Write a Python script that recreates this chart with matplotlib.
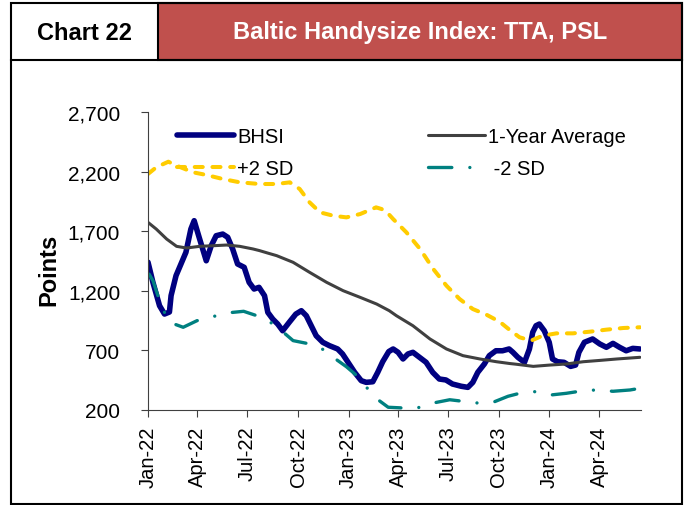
import pandas as pd
import matplotlib
matplotlib.use("Agg")
import matplotlib.pyplot as plt
import matplotlib.dates as mdates
from matplotlib.patches import Rectangle
from matplotlib.lines import Line2D
from matplotlib.ticker import FuncFormatter

plt.rcParams['font.family'] = ['Liberation Sans', 'DejaVu Sans']

# BHSI
bhsi_dates = ["2022-01-01", "2022-01-10", "2022-01-22", "2022-01-31", "2022-02-09", "2022-02-12",
              "2022-02-21", "2022-03-02", "2022-03-11", "2022-03-20", "2022-03-26", "2022-04-05",
              "2022-04-17", "2022-04-26", "2022-05-05", "2022-05-17", "2022-05-26", "2022-06-04",
              "2022-06-13", "2022-06-25", "2022-07-04", "2022-07-13", "2022-07-22", "2022-08-01",
              "2022-08-07", "2022-08-16", "2022-08-25", "2022-09-03", "2022-09-15", "2022-09-27",
              "2022-10-07", "2022-10-16", "2022-10-25", "2022-11-03", "2022-11-15", "2022-11-27",
              "2022-12-12", "2022-12-21", "2022-12-31", "2023-01-12", "2023-01-24", "2023-02-02",
              "2023-02-14", "2023-02-23", "2023-03-04", "2023-03-15", "2023-03-23", "2023-04-01",
              "2023-04-10", "2023-04-19", "2023-04-28", "2023-05-10", "2023-05-22", "2023-06-03",
              "2023-06-15", "2023-06-27", "2023-07-09", "2023-07-25", "2023-08-06", "2023-08-15",
              "2023-08-24", "2023-09-05", "2023-09-14", "2023-09-26", "2023-10-08", "2023-10-20",
              "2023-10-27", "2023-11-05", "2023-11-17", "2023-11-26", "2023-12-02", "2023-12-08",
              "2023-12-14", "2023-12-23", "2024-01-01", "2024-01-07", "2024-01-16", "2024-01-28",
              "2024-02-09", "2024-02-18", "2024-02-24", "2024-03-05", "2024-03-20", "2024-04-02",
              "2024-04-14", "2024-04-26", "2024-05-08", "2024-05-20", "2024-06-01", "2024-06-14"]
bhsi_values = [1440, 1270, 1075, 1005, 1022, 1160,
               1327, 1425, 1523, 1718, 1788, 1634,
               1452, 1578, 1662, 1676, 1649, 1551,
               1425, 1397, 1271, 1215, 1229, 1159,
               1019, 963, 921, 865, 936, 1005,
               1033, 991, 907, 823, 768, 740,
               712, 670, 600, 516, 446, 432,
               437, 516, 605, 690, 712, 684,
               628, 670, 684, 642, 600, 516,
               460, 452, 418, 399, 390, 432,
               516, 586, 656, 697, 697, 712,
               684, 642, 600, 712, 852, 907,
               921, 865, 768, 628, 605, 600,
               566, 577, 684, 768, 796, 754,
               726, 759, 726, 697, 717, 712]

# 1-Year Average
avg_dates = ["2022-01-01", "2022-01-16", "2022-02-04", "2022-02-22", "2022-03-12", "2022-04-05",
             "2022-04-29", "2022-05-24", "2022-06-17", "2022-07-11", "2022-07-23", "2022-08-08",
             "2022-08-23", "2022-09-22", "2022-10-22", "2022-11-22", "2022-12-22", "2023-01-22",
             "2023-02-21", "2023-03-16", "2023-03-29", "2023-04-28", "2023-05-29", "2023-06-28",
             "2023-07-28", "2023-08-28", "2023-09-27", "2023-10-21", "2023-11-02", "2023-12-03",
             "2024-01-02", "2024-02-01", "2024-03-03", "2024-04-02", "2024-05-03", "2024-06-14"]
avg_values = [1774, 1718, 1634, 1573, 1559, 1573,
              1578, 1584, 1573, 1551, 1537, 1515,
              1495, 1439, 1355, 1271, 1201, 1145,
              1089, 1033, 991, 907, 796, 712,
              656, 628, 605, 590, 584, 566,
              577, 586, 605, 616, 628, 642]

# +2 SD
plus_dates = ["2022-01-01", "2022-01-16", "2022-02-07", "2022-02-22", "2022-03-24", "2022-04-17",
              "2022-05-17", "2022-06-17", "2022-07-23", "2022-08-23", "2022-09-16", "2022-10-04",
              "2022-10-22", "2022-11-10", "2022-12-04", "2022-12-28", "2023-01-22", "2023-02-20",
              "2023-03-02", "2023-03-12", "2023-03-23", "2023-04-16", "2023-05-11", "2023-06-04",
              "2023-06-28", "2023-07-22", "2023-08-15", "2023-09-09", "2023-10-03", "2023-10-21",
              "2023-11-08", "2023-11-29", "2023-12-20", "2024-01-14", "2024-02-13", "2024-03-15",
              "2024-04-14", "2024-05-15", "2024-06-14"]
plus_values = [2180, 2236, 2283, 2250, 2194, 2172,
               2138, 2110, 2096, 2096, 2110, 2054,
               1942, 1858, 1830, 1816, 1844, 1900,
               1886, 1858, 1802, 1691, 1551, 1383,
               1243, 1131, 1047, 999, 940, 872,
               810, 782, 823, 843, 843, 857,
               874, 888, 894]

# -2 SD
minus_dates = ["2022-01-03", "2022-01-10", "2022-01-25", "2022-02-09", "2022-03-06", "2022-03-31",
               "2022-04-24", "2022-05-24", "2022-06-24", "2022-07-18", "2022-08-08", "2022-09-01",
               "2022-09-22", "2022-10-17", "2022-11-10", "2022-12-04", "2022-12-28", "2023-01-16",
               "2023-01-31", "2023-02-20", "2023-03-14", "2023-04-10", "2023-05-04", "2023-06-01",
               "2023-07-04", "2023-07-28", "2023-08-21", "2023-09-21", "2023-10-18", "2023-11-08",
               "2023-12-05", "2024-01-04", "2024-02-01", "2024-03-03", "2024-03-27", "2024-04-26",
               "2024-05-27", "2024-06-14"]
minus_values = [1340, 1285, 1075, 936, 894, 949,
                977, 1014, 1028, 991, 949, 865,
                782, 759, 726, 642, 563, 488,
                404, 298, 223, 217, 214, 256,
                286, 273, 259, 265, 315, 340,
                354, 326, 340, 362, 368, 357,
                368, 382]

tick_dates = ["2022-01-01", "2022-04-01", "2022-07-01", "2022-10-01", "2023-01-01", "2023-04-01",
              "2023-07-01", "2023-10-01", "2024-01-01", "2024-04-01"]
y_ticks = [200, 700, 1200, 1700, 2200, 2700]

W, H = 685, 506
fig = plt.figure(figsize=(W / 100, H / 100), dpi=100)
ax = fig.add_axes([148 / W, 1 - 411 / H, (641 - 148) / W, (411 - 113) / H])

l_bhsi, = ax.plot(pd.to_datetime(bhsi_dates), bhsi_values, color='#000080', lw=4,
                  solid_capstyle='round', solid_joinstyle='round', label='BHSI')
l_avg, = ax.plot(pd.to_datetime(avg_dates), avg_values, color='#404040', lw=2.2,
                 solid_capstyle='round', label='1-Year Average')
l_plus, = ax.plot(pd.to_datetime(plus_dates), plus_values, color='#FFCC00', lw=2.9,
                  linestyle=(0, (2.0, 2.4)), dash_capstyle='round', label='+2 SD')
l_minus, = ax.plot(pd.to_datetime(minus_dates), minus_values, color='#008080', lw=2.4,
                   linestyle=(0, (7.0, 5.4, 0.01, 5.4)), dash_capstyle='round', label=' -2 SD')

ax.set_xlim(pd.Timestamp("2022-01-01"), pd.Timestamp("2024-06-16"))
ax.set_ylim(200, 2700)
ax.set_yticks(y_ticks)
ax.yaxis.set_major_formatter(FuncFormatter(lambda v, p: f"{int(v):,}"))
ax.set_xticks(pd.to_datetime(tick_dates))
ax.xaxis.set_major_formatter(mdates.DateFormatter('%b-%y'))

for s in ['top', 'right']:
    ax.spines[s].set_visible(False)
for s in ['left', 'bottom']:
    ax.spines[s].set_color('#404040')
    ax.spines[s].set_linewidth(0.8)

ax.tick_params(axis='y', direction='out', length=5, width=0.8, color='#404040',
               labelsize=15, pad=15)
ax.tick_params(axis='x', direction='out', length=5, width=0.8, color='#404040',
               labelsize=14.5, pad=6, labelrotation=90)

ax.set_ylabel('Points', fontsize=17, fontweight='bold')
ax.yaxis.set_label_coords(-0.178, 0.473)

ax.legend(handles=[l_bhsi, l_plus, l_avg, l_minus], ncol=2, loc='upper left',
          bbox_to_anchor=(0.0588, 0.948), frameon=False, fontsize=14.5,
          borderpad=0, borderaxespad=0, handlelength=2.83, handletextpad=0.15,
          columnspacing=6.7, labelspacing=0.6)

# header and frame
fig.patches.append(Rectangle((158 / W, 1 - 61 / H), (682 - 158) / W, 57 / H,
                             transform=fig.transFigure, facecolor='#C0504D',
                             edgecolor='black', lw=1.5, zorder=0))
fig.patches.append(Rectangle((11 / W, 1 - 505 / H), (682 - 11) / W, 501 / H,
                             transform=fig.transFigure, facecolor='none',
                             edgecolor='black', lw=1.5, zorder=5))
fig.lines.append(Line2D([11 / W, 682 / W], [1 - 61 / H, 1 - 61 / H],
                        transform=fig.transFigure, color='black', lw=1.5))
fig.text(84.5 / W, 1 - 33 / H, 'Chart 22', fontsize=17, fontweight='bold',
         ha='center', va='center')
fig.text(420 / W, 1 - 33 / H, 'Baltic Handysize Index: TTA, PSL', fontsize=17,
         fontweight='bold', color='white', ha='center', va='center')

fig.savefig('out.png', dpi=100)
